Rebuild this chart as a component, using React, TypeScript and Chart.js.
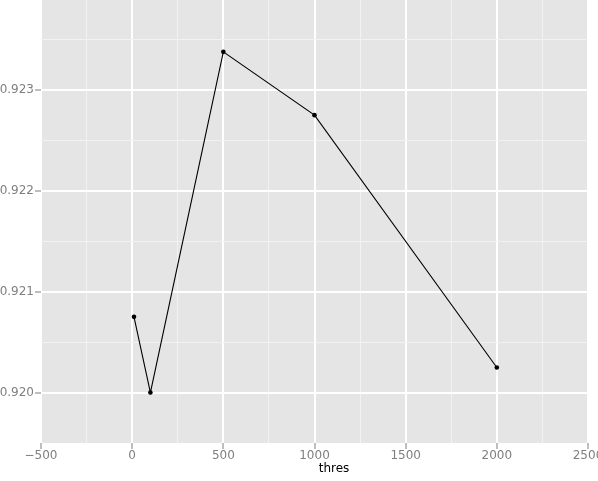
import React, { useEffect, useRef } from "react";
import { Chart, registerables } from "chart.js";

Chart.register(...registerables);

const thres = [10, 100, 500, 1000, 2000];
const values = [0.92075, 0.92, 0.923376, 0.922749, 0.920248];

const xMajorTicks = [-500, 0, 500, 1000, 1500, 2000, 2500];
const xTickLabels = ["\u2212500", "0", "500", "1000", "1500", "2000", "2500"];
const xMinorTicks = [-250, 250, 750, 1250, 1750, 2250];

const yMajorTicks = [0.92, 0.921, 0.922, 0.923];
const yTickLabels = ["0.920", "0.921", "0.922", "0.923"];
const yMinorTicks = [0.9205, 0.9215, 0.9225, 0.9235];

const xTitle = "thres";

const X_MIN = -500;
const X_MAX = 2500;
const Y_MIN = 0.9195;
const Y_MAX = 0.92389;

const GREY_TEXT = "#7f7f7f";
const FONT = "'DejaVu Sans', sans-serif";

function buildTicks(major: number[], minor: number[]) {
  const all = [
    ...major.map((v) => ({ value: v, major: true })),
    ...minor.map((v) => ({ value: v, major: false })),
  ];
  all.sort((a, b) => a.value - b.value);
  return all;
}

const panelBg = {
  id: "panelBg",
  beforeDraw(chart: any) {
    const { ctx, chartArea } = chart;
    ctx.save();
    ctx.fillStyle = "#e5e5e5";
    ctx.fillRect(
      chartArea.left,
      chartArea.top,
      chartArea.right - chartArea.left,
      chartArea.bottom - chartArea.top
    );
    ctx.restore();
  },
};

// x-axis title, placed slightly right of the panel centre as in the reference
const xTitlePlugin = {
  id: "xTitlePlugin",
  afterDraw(chart: any) {
    const { ctx, chartArea } = chart;
    ctx.save();
    ctx.fillStyle = "#000000";
    ctx.font = `12px ${FONT}`;
    ctx.textAlign = "center";
    ctx.textBaseline = "alphabetic";
    const cx = (chartArea.left + chartArea.right) / 2 + 19.5;
    ctx.fillText(xTitle, cx, chartArea.bottom + 29);
    ctx.restore();
  },
};

export default function App() {
  const ref = useRef<HTMLCanvasElement | null>(null);

  useEffect(() => {
    if (!ref.current) return;
    const xTicks = buildTicks(xMajorTicks, xMinorTicks);
    const yTicks = buildTicks(yMajorTicks, yMinorTicks);

    const chart = new Chart(ref.current, {
      type: "line",
      data: {
        datasets: [
          {
            data: thres.map((t, i) => ({ x: t, y: values[i] })),
            borderColor: "#000000",
            backgroundColor: "#000000",
            borderWidth: 1.1,
            pointRadius: 2.3,
            pointHoverRadius: 2.3,
            pointBorderWidth: 0,
            tension: 0,
            fill: false,
            clip: false,
          },
        ],
      },
      options: {
        animation: false,
        responsive: false,
        maintainAspectRatio: false,
        layout: { autoPadding: false, padding: { left: 0, right: 10, top: 0, bottom: 0 } },
        plugins: {
          legend: { display: false },
          tooltip: { enabled: false },
        },
        scales: {
          x: {
            type: "linear",
            min: X_MIN,
            max: X_MAX,
            afterBuildTicks: (scale: any) => {
              scale.ticks = xTicks.map((t) => ({ ...t }));
            },
            afterFit: (scale: any) => {
              scale.height = 38;
              scale.paddingLeft = 0;
              scale.paddingRight = 0;
            },
            border: { display: false },
            grid: {
              drawTicks: true,
              tickLength: 6,
              color: (c: any) => (c.tick && c.tick.major ? "#ffffff" : "#f2f2f2"),
              lineWidth: (c: any) => (c.tick && c.tick.major ? 2 : 1),
              tickColor: (c: any) => (c.tick && c.tick.major ? GREY_TEXT : "rgba(0,0,0,0)"),
              tickWidth: 1,
            },
            ticks: {
              autoSkip: false,
              maxRotation: 0,
              padding: 0,
              color: GREY_TEXT,
              font: { family: FONT, size: 12 },
              callback: (value: any) => {
                const i = xMajorTicks.indexOf(Number(value));
                return i >= 0 ? xTickLabels[i] : "";
              },
            },
            title: { display: false },
          },
          y: {
            type: "linear",
            min: Y_MIN,
            max: Y_MAX,
            afterBuildTicks: (scale: any) => {
              scale.ticks = yTicks.map((t) => ({ ...t }));
            },
            afterFit: (scale: any) => {
              scale.width = 41;
              scale.paddingTop = 0;
              scale.paddingBottom = 0;
            },
            border: { display: false },
            grid: {
              drawTicks: true,
              tickLength: 6,
              color: (c: any) => (c.tick && c.tick.major ? "#ffffff" : "#f2f2f2"),
              lineWidth: (c: any) => (c.tick && c.tick.major ? 2 : 1),
              tickColor: (c: any) => (c.tick && c.tick.major ? GREY_TEXT : "rgba(0,0,0,0)"),
              tickWidth: 1,
            },
            ticks: {
              autoSkip: false,
              padding: 1,
              color: GREY_TEXT,
              font: { family: FONT, size: 12 },
              callback: (value: any) => {
                const v = Number(value);
                const i = yMajorTicks.findIndex((m) => Math.abs(m - v) < 1e-9);
                return i >= 0 ? yTickLabels[i] : "";
              },
            },
          },
        },
      },
      plugins: [panelBg, xTitlePlugin],
    });
    return () => chart.destroy();
  }, []);

  return (
    <div
      style={{
        position: "absolute",
        left: 0,
        top: 0,
        width: 598,
        height: 481,
        overflow: "hidden",
        background: "#ffffff",
      }}
    >
      <canvas ref={ref} width={598} height={481} style={{ display: "block" }} />
    </div>
  );
}
